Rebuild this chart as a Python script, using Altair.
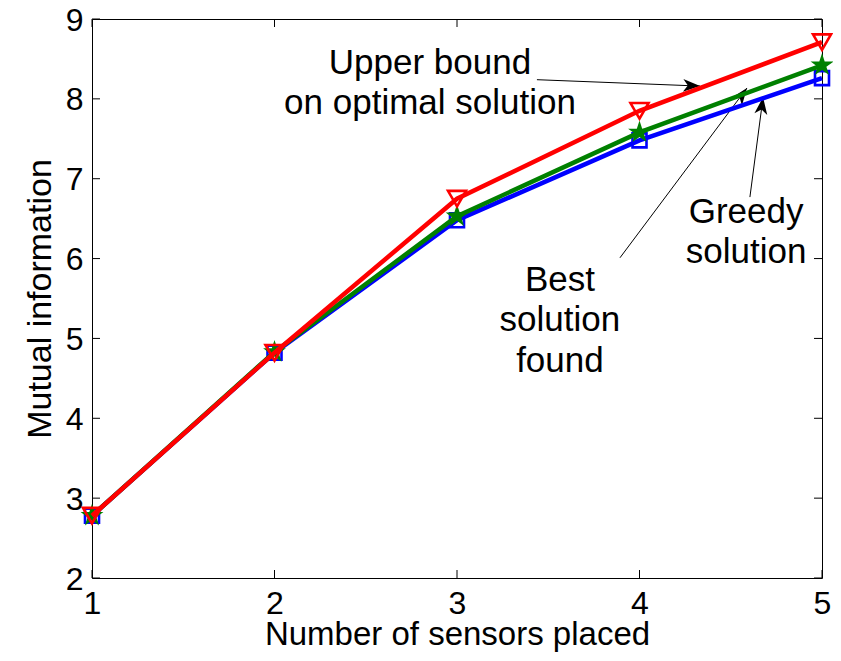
import math
import altair as alt
import pandas as pd

# ---- data ----
sensors = [1, 2, 3, 4, 5]
upper_bound = [2.78, 4.82, 6.75, 7.85, 8.71]
best_found = [2.78, 4.83, 6.53, 7.58, 8.42]
greedy = [2.78, 4.82, 6.48, 7.48, 8.26]

x_ticks = [1, 2, 3, 4, 5]
y_ticks = [2, 3, 4, 5, 6, 7, 8, 9]

# annotation text lines: (x, y baseline, text)
label_x = [2.852, 2.852, 4.584, 4.584, 3.564, 3.564, 3.564]
label_y = [8.31, 7.808, 6.441, 5.939, 5.60, 5.098, 4.584]
label_text = ["Upper bound", "on optimal solution", "Greedy", "solution",
              "Best", "solution", "found"]

# arrows: start -> tip
arrow_x1 = [3.438, 3.893, 4.605]
arrow_y1 = [8.24, 6.01, 6.77]
arrow_x2 = [4.332, 4.589, 4.677]
arrow_y2 = [8.16, 8.136, 8.02]

W, H = 730, 559
FONT = "Liberation Sans"
XMIN, XMAX, YMIN, YMAX = 1, 5, 2, 9

rows = []
for name, vals in [("greedy", greedy), ("best", best_found), ("upper", upper_bound)]:
    for s, v in zip(sensors, vals):
        rows.append({"sensors": s, "value": v, "series": name})
df = pd.DataFrame(rows)

xscale = alt.Scale(domain=[XMIN, XMAX], nice=False, zero=False)
yscale = alt.Scale(domain=[YMIN, YMAX], nice=False, zero=False)
xaxis = alt.Axis(values=x_ticks, format="d", title="Number of sensors placed",
                 tickSize=0, domain=False, grid=False, labelPadding=10,
                 labelFlush=False, titlePadding=-1, titleFontSize=33)
yaxis = alt.Axis(values=y_ticks, format="d", title="Mutual information",
                 tickSize=0, domain=False, grid=False, labelPadding=9,
                 labelFlush=False, titlePadding=8, labelOffset=1)


def X(field):
    return alt.X(field, type="quantitative", scale=xscale, axis=xaxis)


def Y(field):
    return alt.Y(field, type="quantitative", scale=yscale, axis=yaxis)


# star path
pts = []
for k in range(10):
    a = math.radians(-90 + k * 36)
    r = 1.0 if k % 2 == 0 else 0.382
    pts.append(f"{r*math.cos(a):.4f},{r*math.sin(a):.4f}")
star_path = "M" + "L".join(pts) + "Z"

arrow_head = "M0,0L-0.38,1L0,0.72L0.38,1Z"

styles = {
    "greedy": dict(color="#0000FF", shape="square", size=196, filled=False, sw=2.6),
    "best": dict(color="#008000", shape=star_path, size=576, filled=True, sw=1),
    "upper": dict(color="#FF0000", shape="triangle-down", size=324, filled=False, sw=2.6),
}

layers = []
for name in ["greedy", "best", "upper"]:
    st = styles[name]
    base = alt.Chart(df).transform_filter(alt.datum.series == name)
    line = base.mark_line(color=st["color"], strokeWidth=4.5).encode(
        x=X("sensors"), y=Y("value"))
    pt = base.mark_point(shape=st["shape"], size=st["size"], filled=st["filled"],
                         color=st["color"], strokeWidth=st["sw"], opacity=1).encode(
        x=X("sensors"), y=Y("value"))
    layers += [line, pt]

# arrows
ax_rows = []
for x1, y1, x2, y2 in zip(arrow_x1, arrow_y1, arrow_x2, arrow_y2):
    dx = (x2 - x1) * W / (XMAX - XMIN)
    dy_up = (y2 - y1) * H / (YMAX - YMIN)
    ang = math.degrees(math.atan2(dx, dy_up)) % 360
    ax_rows.append({"x1": x1, "y1": y1, "x2": x2, "y2": y2, "angle": ang})
adf = pd.DataFrame(ax_rows)

arrow_lines = alt.Chart(adf).mark_rule(color="black", strokeWidth=1).encode(
    x=X("x1"), y=Y("y1"), x2="x2", y2="y2")
arrow_heads = alt.Chart(adf).mark_point(shape=arrow_head, size=1156, filled=True,
                                        color="black", opacity=1, strokeWidth=0).encode(
    x=X("x2"), y=Y("y2"), angle=alt.Angle("angle:Q", scale=None))

tdf = pd.DataFrame({"x": label_x, "y": label_y, "text": label_text})
texts = alt.Chart(tdf).mark_text(font=FONT, fontSize=35, align="center",
                                 baseline="alphabetic", color="black").encode(
    x=X("x"), y=Y("y"), text="text:N")

# inward ticks on all four sides
xt = pd.DataFrame({"t": x_ticks})
yt = pd.DataFrame({"t": y_ticks})
tick_b = alt.Chart(xt).mark_rule(color="black", strokeWidth=1).encode(
    x=X("t"), y=alt.value(H), y2=alt.value(H - 8))
tick_t = alt.Chart(xt).mark_rule(color="black", strokeWidth=1).encode(
    x=X("t"), y=alt.value(0), y2=alt.value(8))
tick_l = alt.Chart(yt).mark_rule(color="black", strokeWidth=1).encode(
    y=Y("t"), x=alt.value(0), x2=alt.value(8))
tick_r = alt.Chart(yt).mark_rule(color="black", strokeWidth=1).encode(
    y=Y("t"), x=alt.value(W), x2=alt.value(W - 8))

chart = alt.layer(tick_b, tick_t, tick_l, tick_r, arrow_lines, arrow_heads, texts,
                  *layers).properties(
    width=W, height=H,
    autosize=alt.AutoSizeParams(type="none"),
    padding={"left": 84, "top": 11, "right": 11, "bottom": 75},
    background="white",
).configure_view(stroke="black", strokeWidth=1).configure_axis(
    labelFont=FONT, labelFontSize=32, labelColor="black",
    titleFont=FONT, titleFontSize=34, titleFontWeight="normal", titleColor="black",
)

chart.save("out.html", embed_options={"renderer": "svg", "actions": False})
